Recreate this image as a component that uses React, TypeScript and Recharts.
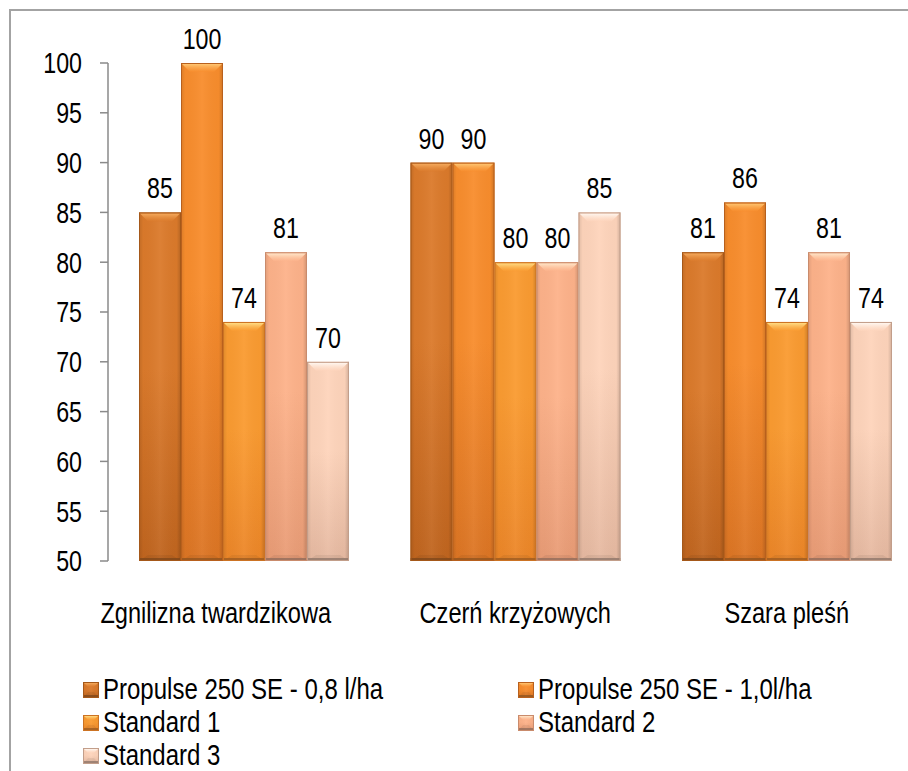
import React from 'react';
import { BarChart, Bar, XAxis, YAxis, Legend, LabelList } from 'recharts';

const categories = ['Zgnilizna twardzikowa', 'Czerń krzyżowych', 'Szara pleśń'];
const propulse08 = [85, 90, 81];
const propulse10 = [100, 90, 86];
const standard1 = [74, 80, 74];
const standard2 = [81, 80, 81];
const standard3 = [70, 85, 74];
const yTicks = [50, 55, 60, 65, 70, 75, 80, 85, 90, 95, 100];

const seriesNames = [
  'Propulse 250 SE - 0,8 l/ha',
  'Propulse 250 SE - 1,0l/ha',
  'Standard 1',
  'Standard 2',
  'Standard 3',
];

// no narrow font installed, so Liberation Sans gets squeezed horizontally
const FONT = "'Liberation Sans', Arial, sans-serif";
const SQUEEZE = 0.8;

// bevel colours per series: body top, body bottom, side edge, cap highlight, bottom strip
const PALETTE = [
  { top: '#db7a2b', bottom: '#c0651f', edge: '#a55819', cap: '#f5ab5e', foot: '#7c4519' },
  { top: '#f88d2d', bottom: '#dc7524', edge: '#b8601d', cap: '#ffc672', foot: '#8e531f' },
  { top: '#fa9b31', bottom: '#ec8628', edge: '#cc7323', cap: '#ffdc84', foot: '#9a5a20' },
  { top: '#fdb28a', bottom: '#e99c76', edge: '#c98b6c', cap: '#ffe7ca', foot: '#8e6a5a' },
  { top: '#fed4bb', bottom: '#e6b9a1', edge: '#c29e8a', cap: '#fff7f0', foot: '#8b7367' },
];

const data = categories.map((name, i) => ({
  name,
  s0: propulse08[i],
  s1: propulse10[i],
  s2: standard1[i],
  s3: standard2[i],
  s4: standard3[i],
}));

function Gradients({ prefix }: { prefix: string }) {
  return (
    <defs>
      {PALETTE.map((c, i) => (
        <React.Fragment key={i}>
          <linearGradient id={`${prefix}body-${i}`} x1="0" y1="0" x2="0" y2="1">
            <stop offset="0%" stopColor={c.top} />
            <stop offset="45%" stopColor={c.top} />
            <stop offset="100%" stopColor={c.bottom} />
          </linearGradient>
          <linearGradient id={`${prefix}cap-${i}`} x1="0" y1="0" x2="0" y2="1">
            <stop offset="0%" stopColor={c.cap} />
            <stop offset="100%" stopColor={c.top} stopOpacity={0.6} />
          </linearGradient>
        </React.Fragment>
      ))}
      <linearGradient id={`${prefix}side`} x1="0" y1="0" x2="1" y2="0">
        <stop offset="0%" stopColor="#000" stopOpacity={0.12} />
        <stop offset="10%" stopColor="#000" stopOpacity={0.02} />
        <stop offset="50%" stopColor="#fff" stopOpacity={0.05} />
        <stop offset="90%" stopColor="#000" stopOpacity={0.02} />
        <stop offset="100%" stopColor="#000" stopOpacity={0.18} />
      </linearGradient>
    </defs>
  );
}

function BevelBar(props: any) {
  const { x, y, width, height, idx, prefix = '', bevel = 9 } = props;
  if (!width || !height || height <= 0) return null;
  const c = PALETTE[idx];
  const b = Math.min(bevel, height / 2, width / 3);
  const f = Math.min(3, height / 5);
  return (
    <g>
      <rect x={x} y={y} width={width} height={height} fill={`url(#${prefix}body-${idx})`} />
      <rect x={x} y={y} width={width} height={height} fill={`url(#${prefix}side)`} />
      <polygon
        points={`${x + 1},${y + 1} ${x + width - 1},${y + 1} ${x + width - b},${y + b} ${x + b},${y + b}`}
        fill={`url(#${prefix}cap-${idx})`}
      />
      <polygon
        points={`${x + b},${y + height - f - 3} ${x + width - b},${y + height - f - 3} ${x + width},${y + height} ${x},${y + height}`}
        fill="#000"
        opacity={0.06}
      />
      <rect x={x} y={y + height - f} width={width} height={f} fill={c.foot} opacity={0.75} />
      <rect x={x + 0.5} y={y + 0.5} width={width - 1} height={height - 1} fill="none" stroke={c.edge} strokeWidth={1} />
    </g>
  );
}

function NarrowText({ x, y, anchor, size, children, dy = 0 }: any) {
  return (
    <text
      transform={`translate(${x} ${y}) scale(${SQUEEZE} 1)`}
      x={0}
      y={0}
      dy={dy}
      textAnchor={anchor}
      fontSize={size}
      fontFamily={FONT}
      fill="#000"
    >
      {children}
    </text>
  );
}

function CategoryTick(props: any) {
  const { x, y, payload, index } = props;
  const shift = index === 0 ? -28 : 0;
  return (
    <NarrowText x={x + shift} y={y + 62} anchor="middle" size={29.5}>
      {payload.value}
    </NarrowText>
  );
}

function ValueTick(props: any) {
  const { x, y, payload } = props;
  return (
    <NarrowText x={x} y={y} anchor="end" size={29} dy="0.355em">
      {payload.value}
    </NarrowText>
  );
}

function BarValue(props: any) {
  const { x, y, width, value } = props;
  return (
    <NarrowText x={x + width / 2} y={y - 14} anchor="middle" size={29}>
      {value}
    </NarrowText>
  );
}

function LegendContent() {
  return (
    <div
      style={{
        display: 'grid',
        gridTemplateColumns: '435px 400px',
        fontFamily: FONT,
        fontSize: 30,
        lineHeight: '33px',
        color: '#000',
      }}
    >
      {seriesNames.map((name, i) => (
        <div key={name} style={{ display: 'flex', alignItems: 'center', whiteSpace: 'nowrap' }}>
          <svg width={16} height={16} style={{ marginRight: 4, marginTop: 3, flex: 'none' }}>
            <Gradients prefix={`lg${i}-`} />
            <BevelBar x={0} y={0} width={16} height={16} idx={i} prefix={`lg${i}-`} bevel={5} />
          </svg>
          <span style={{ display: 'inline-block', transform: `scaleX(${SQUEEZE})`, transformOrigin: 'left center' }}>
            {name}
          </span>
        </div>
      ))}
    </div>
  );
}

export default function App() {
  return (
    <div
      style={{
        position: 'fixed',
        left: 0,
        top: 0,
        width: 908,
        height: 771,
        overflow: 'hidden',
        background: '#fff',
      }}
    >
      <div
        style={{
          marginLeft: 9,
          marginTop: 9,
          width: 960,
          height: 820,
          border: '2px solid #a3a3a3',
          boxSizing: 'content-box',
          background: '#fff',
        }}
      >
        <BarChart
          width={940}
          height={790}
          data={data}
          margin={{ top: 52, right: 28.5, left: 0, bottom: 180 }}
          barCategoryGap={31}
          barGap={0}
        >
          <Gradients prefix="" />
          <XAxis
            dataKey="name"
            axisLine={false}
            tickLine={false}
            tickSize={0}
            tickMargin={0}
            height={60}
            interval={0}
            tick={<CategoryTick />}
          />
          <YAxis
            width={97}
            domain={[50, 100]}
            ticks={yTicks}
            interval={0}
            allowDataOverflow
            axisLine={{ stroke: '#8a8a8a', strokeWidth: 1.5 }}
            tickLine={{ stroke: '#8a8a8a', strokeWidth: 1.5 }}
            tickSize={8}
            tickMargin={18}
            tick={<ValueTick />}
          />
          <Legend
            layout="horizontal"
            verticalAlign="middle"
            align="center"
            wrapperStyle={{ left: 72, top: 661, width: 840 }}
            content={<LegendContent />}
          />
          {PALETTE.map((_, i) => (
            <Bar
              key={i}
              dataKey={`s${i}`}
              name={seriesNames[i]}
              fill={PALETTE[i].top}
              isAnimationActive={false}
              shape={(p: any) => <BevelBar {...p} idx={i} />}
            >
              <LabelList dataKey={`s${i}`} content={<BarValue />} />
            </Bar>
          ))}
        </BarChart>
      </div>
    </div>
  );
}
